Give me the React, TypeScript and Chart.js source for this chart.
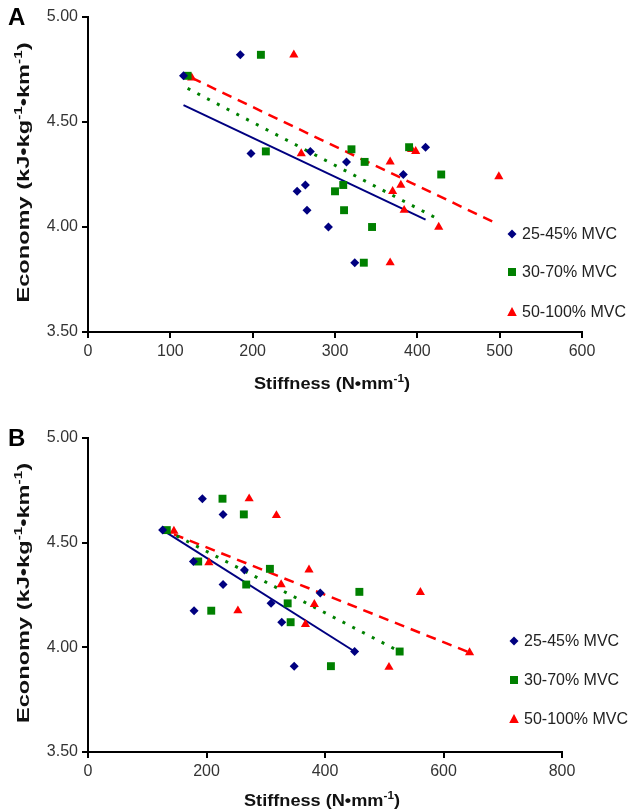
import React, { useEffect, useRef } from 'react';
import { Chart, registerables } from 'chart.js';

Chart.register(...registerables);

const FONT = "'Liberation Sans', Arial, Helvetica, sans-serif";

// Series labels
const seriesLabels = ['25-45% MVC', '30-70% MVC', '50-100% MVC'];
const yTickValues = [3.5, 4.0, 4.5, 5.0];
// Axis titles (text, superscript flag)
const xTitleParts: [string, boolean][] = [['Stiffness (N•mm', false], ['-1', true], [')', false]];
const yTitleParts: [string, boolean][] = [
  ['Economy (kJ•kg', false],
  ['-1', true],
  ['•km', false],
  ['-1', true],
  [')', false],
];

// Panel A data
const aBlueX = [116, 185, 198, 254, 264, 266, 270, 292, 314, 324, 383, 410];
const aBlueY = [4.72, 4.82, 4.35, 4.17, 4.2, 4.08, 4.36, 4.0, 4.31, 3.83, 4.25, 4.38];
const aGreenX = [121, 210, 216, 300, 310, 311, 320, 336, 335, 345, 390, 429];
const aGreenY = [4.72, 4.82, 4.36, 4.17, 4.2, 4.08, 4.37, 4.31, 3.83, 4.0, 4.38, 4.25];
const aRedX = [126, 250, 259, 367, 370, 380, 384, 367, 393, 398, 426, 499];
const aRedY = [4.71, 4.82, 4.35, 4.31, 4.17, 4.2, 4.08, 3.83, 4.37, 4.36, 4.0, 4.24];
// Panel A trend lines (end points)
const aBlueTrendX = [116, 410];
const aBlueTrendY = [4.58, 4.035];
const aGreenTrendX = [121, 429];
const aGreenTrendY = [4.66, 4.03];
const aRedTrendX = [126, 497];
const aRedTrendY = [4.71, 4.015];

// Panel B data
const bBlueX = [126, 178, 179, 193, 228, 228, 264, 309, 327, 348, 392, 450];
const bBlueY = [4.56, 4.41, 4.175, 4.71, 4.635, 4.3, 4.37, 4.21, 4.12, 3.91, 4.26, 3.98];
const bGreenX = [133, 186, 208, 227, 263, 267, 307, 337, 342, 410, 458, 526];
const bGreenY = [4.56, 4.41, 4.175, 4.71, 4.635, 4.3, 4.375, 4.21, 4.12, 3.91, 4.265, 3.98];
const bRedX = [145, 204, 253, 272, 318, 326, 367, 373, 382, 508, 561, 644];
const bRedY = [4.555, 4.405, 4.175, 4.71, 4.63, 4.3, 4.11, 4.37, 4.205, 3.905, 4.263, 3.975];
// Panel B trend lines
const bBlueTrendX = [126, 450];
const bBlueTrendY = [4.56, 3.98];
const bGreenTrendX = [133, 526];
const bGreenTrendY = [4.557, 3.98];
const bRedTrendX = [145, 644];
const bRedTrendY = [4.54, 3.975];

const BLUE = '#000080';
const GREEN = '#008000';
const RED = '#FF0000';

const zip = (xs: number[], ys: number[]) => xs.map((x, i) => ({ x, y: ys[i] }));

type PanelDef = {
  letter: string;
  height: number;
  xMax: number;
  xStep: number;
  padTop: number;
  padRight: number;
  xAxisHeight: number;
  xTitleY: number;
  legendX: number;
  legendY: number[];
  blue: [number[], number[]];
  green: [number[], number[]];
  red: [number[], number[]];
  blueT: [number[], number[]];
  greenT: [number[], number[]];
  redT: [number[], number[]];
};

function drawMarker(ctx: CanvasRenderingContext2D, kind: number, x: number, y: number) {
  ctx.beginPath();
  if (kind === 0) {
    const r = 4.5;
    ctx.moveTo(x, y - r);
    ctx.lineTo(x + r, y);
    ctx.lineTo(x, y + r);
    ctx.lineTo(x - r, y);
    ctx.fillStyle = BLUE;
  } else if (kind === 1) {
    ctx.rect(x - 4, y - 4, 8, 8);
    ctx.fillStyle = GREEN;
  } else {
    ctx.moveTo(x, y - 5);
    ctx.lineTo(x + 4.8, y + 4);
    ctx.lineTo(x - 4.8, y + 4);
    ctx.fillStyle = RED;
  }
  ctx.closePath();
  ctx.fill();
}

// draws text with superscripts centred on (0,0) of the current transform
function drawRich(ctx: CanvasRenderingContext2D, parts: [string, boolean][], size: number, supSize: number) {
  const mainFont = `bold ${size}px ${FONT}`;
  const supFont = `bold ${supSize}px ${FONT}`;
  let total = 0;
  const widths = parts.map(([t, sup]) => {
    ctx.font = sup ? supFont : mainFont;
    const w = ctx.measureText(t).width;
    total += w;
    return w;
  });
  let x = -total / 2;
  ctx.textAlign = 'left';
  ctx.textBaseline = 'alphabetic';
  const base = size * 0.36;
  parts.forEach(([t, sup], i) => {
    ctx.font = sup ? supFont : mainFont;
    ctx.fillText(t, x, sup ? base - size * 0.42 : base);
    x += widths[i];
  });
  return total;
}

function measureRich(ctx: CanvasRenderingContext2D, parts: [string, boolean][], size: number, supSize: number) {
  let total = 0;
  parts.forEach(([t, sup]) => {
    ctx.font = `bold ${sup ? supSize : size}px ${FONT}`;
    total += ctx.measureText(t).width;
  });
  return total;
}

function makeConfig(p: PanelDef): any {
  const tickFont = { family: FONT, size: 16 };
  const gridCfg = {
    display: true,
    drawOnChartArea: false,
    drawTicks: true,
    tickLength: 6,
    color: '#000',
    lineWidth: 2,
  };
  const borderCfg = { display: true, color: '#000', width: 2 };

  const scatterDs = (label: string, pts: [number[], number[]], color: string, style: string, radius: number) => ({
    label,
    data: zip(pts[0], pts[1]),
    backgroundColor: color,
    borderColor: color,
    borderWidth: 0,
    pointStyle: style,
    pointRadius: radius,
    pointHoverRadius: radius,
    showLine: false,
    order: 1,
  });
  const trendDs = (pts: [number[], number[]], color: string, dash: number[], width: number) => ({
    label: '',
    data: zip(pts[0], pts[1]),
    borderColor: color,
    backgroundColor: color,
    borderWidth: width,
    borderDash: dash,
    pointRadius: 0,
    showLine: true,
    fill: false,
    order: 2,
  });

  const deco = {
    id: 'deco' + p.letter,
    afterDraw(chart: any) {
      const ctx: CanvasRenderingContext2D = chart.ctx;
      const area = chart.chartArea;
      ctx.save();
      // panel letter
      ctx.font = `bold 24px ${FONT}`;
      ctx.fillStyle = '#000';
      ctx.textAlign = 'left';
      ctx.textBaseline = 'middle';
      ctx.fillText(p.letter, 8, p.padTop + 1);
      // legend
      ctx.font = `16px ${FONT}`;
      for (let i = 0; i < 3; i++) {
        drawMarker(ctx, i, p.legendX, p.legendY[i]);
        ctx.fillStyle = '#222';
        ctx.font = `16px ${FONT}`;
        ctx.textAlign = 'left';
        ctx.textBaseline = 'middle';
        ctx.fillText(seriesLabels[i], p.legendX + 10, p.legendY[i] + 1);
      }
      ctx.fillStyle = '#111';
      // x axis title
      ctx.save();
      ctx.translate((area.left + area.right) / 2 - 3, p.xTitleY);
      const wx = measureRich(ctx, xTitleParts, 17, 11);
      ctx.scale(156 / wx, 1);
      drawRich(ctx, xTitleParts, 17, 11);
      ctx.restore();
      // y axis title (stretched along its length like the original)
      ctx.save();
      ctx.translate(23, (area.top + area.bottom) / 2 - 2);
      ctx.rotate(-Math.PI / 2);
      const wy = measureRich(ctx, yTitleParts, 17, 11);
      ctx.scale(260 / wy, 1);
      drawRich(ctx, yTitleParts, 17, 11);
      ctx.restore();
      ctx.restore();
    },
  };

  return {
    type: 'scatter',
    data: {
      datasets: [
        trendDs(p.blueT, BLUE, [], 2),
        trendDs(p.greenT, GREEN, [3, 8], 3),
        trendDs(p.redT, RED, [10, 7], 2.5),
        scatterDs(seriesLabels[0], p.blue, BLUE, 'rectRot', 4.5),
        scatterDs(seriesLabels[1], p.green, GREEN, 'rect', 5.6),
        scatterDs(seriesLabels[2], p.red, RED, 'triangle', 5.3),
      ],
    },
    options: {
      responsive: false,
      animation: false,
      devicePixelRatio: 1,
      layout: { padding: { left: 0, right: p.padRight, top: p.padTop, bottom: 0 } },
      plugins: {
        legend: { display: false },
        tooltip: { enabled: false },
        title: { display: false },
      },
      scales: {
        x: {
          type: 'linear',
          min: 0,
          max: p.xMax,
          ticks: {
            stepSize: p.xStep,
            font: tickFont,
            color: '#333',
            padding: 4,
            maxRotation: 0,
          },
          grid: gridCfg,
          border: borderCfg,
          title: { display: false },
          afterFit: (s: any) => {
            s.height = p.xAxisHeight;
          },
        },
        y: {
          type: 'linear',
          min: 3.5,
          max: 5,
          afterBuildTicks: (s: any) => {
            s.ticks = yTickValues.map((v) => ({ value: v }));
          },
          ticks: {
            font: tickFont,
            color: '#333',
            padding: 4,
            callback: (v: any) => Number(v).toFixed(2),
          },
          grid: gridCfg,
          border: borderCfg,
          title: { display: false },
          afterFit: (s: any) => {
            s.width = 88;
          },
        },
      },
    },
    plugins: [deco],
  };
}

const panelA: PanelDef = {
  letter: 'A',
  height: 405,
  xMax: 600,
  xStep: 100,
  padTop: 17,
  padRight: 48,
  xAxisHeight: 73,
  xTitleY: 383,
  legendX: 512,
  legendY: [234, 272, 312],
  blue: [aBlueX, aBlueY],
  green: [aGreenX, aGreenY],
  red: [aRedX, aRedY],
  blueT: [aBlueTrendX, aBlueTrendY],
  greenT: [aGreenTrendX, aGreenTrendY],
  redT: [aRedTrendX, aRedTrendY],
};

const panelB: PanelDef = {
  letter: 'B',
  height: 406,
  xMax: 800,
  xStep: 200,
  padTop: 33,
  padRight: 68,
  xAxisHeight: 59,
  xTitleY: 395,
  legendX: 514,
  legendY: [236, 275, 314],
  blue: [bBlueX, bBlueY],
  green: [bGreenX, bGreenY],
  red: [bRedX, bRedY],
  blueT: [bBlueTrendX, bBlueTrendY],
  greenT: [bGreenTrendX, bGreenTrendY],
  redT: [bRedTrendX, bRedTrendY],
};

function PanelChart({ def }: { def: PanelDef }) {
  const ref = useRef<HTMLCanvasElement | null>(null);
  useEffect(() => {
    if (!ref.current) return;
    const chart = new Chart(ref.current, makeConfig(def));
    return () => chart.destroy();
  }, [def]);
  return (
    <canvas
      ref={ref}
      width={630}
      height={def.height}
      style={{ display: 'block', width: 630, height: def.height }}
    />
  );
}

export default function App() {
  return (
    <div style={{ position: 'absolute', left: 0, top: 0, width: 630, height: 811, background: '#fff' }}>
      <PanelChart def={panelA} />
      <PanelChart def={panelB} />
    </div>
  );
}
